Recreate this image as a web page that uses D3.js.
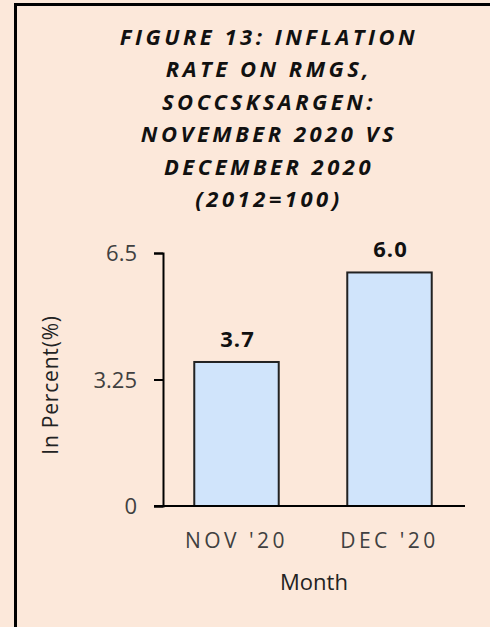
<!DOCTYPE html>
<html>
<head>
<meta charset="utf-8">
<script src="https://cdn.jsdelivr.net/npm/d3@7"></script>
<style>
  body { margin: 0; background: #fce8da; }
  svg { display: block; }
  text { font-family: "Open Sans", sans-serif; }
</style>
</head>
<body>
<svg id="chart" width="490" height="627"></svg>
<script>
// chart data
const titleLines = ["FIGURE 13: INFLATION", "RATE ON RMGS,", "SOCCSKSARGEN:",
                    "NOVEMBER 2020 VS", "DECEMBER 2020", "(2012=100)"];
const months = ["NOV '20", "DEC '20"];
const rates = [3.7, 6.0];
const yTicks = [0, 3.25, 6.5];
const yLabel = "In Percent(%)";
const xLabel = "Month";

const svg = d3.select("#chart");

// frame (right and bottom edges run off the picture)
svg.append("rect")
    .attr("x", 15.5).attr("y", 4.5)
    .attr("width", 600).attr("height", 700)
    .attr("fill", "#fce8da")
    .attr("stroke", "#000").attr("stroke-width", 3);

// title
svg.append("g").selectAll("text").data(titleLines).enter().append("text")
    .attr("x", 269)
    .attr("y", function (d, i) { return 45 + i * 32.4; })
    .attr("text-anchor", "middle")
    .attr("font-size", 22)
    .attr("font-weight", "bold")
    .attr("font-style", "italic")
    .attr("letter-spacing", 3.5)
    .attr("fill", "#111")
    .text(function (d) { return d; });

const plotLeft = 163, plotRight = 465, plotTop = 253, plotBottom = 506;

const x = d3.scaleBand().domain(months).range([160, 466])
    .paddingInner(0.448).paddingOuter(0.224);
const y = d3.scaleLinear().domain([0, 6.5]).range([plotBottom, plotTop]);

// bars
svg.append("g").selectAll("rect").data(rates).enter().append("rect")
    .attr("x", function (d, i) { return x(months[i]); })
    .attr("y", function (d) { return y(d); })
    .attr("width", x.bandwidth())
    .attr("height", function (d) { return plotBottom - y(d); })
    .attr("fill", "#d0e4fb")
    .attr("stroke", "#222")
    .attr("stroke-width", 2);

// value labels
svg.append("g").selectAll("text").data(rates).enter().append("text")
    .attr("x", function (d, i) { return x(months[i]) + x.bandwidth() / 2 + 1; })
    .attr("y", function (d) { return y(d) - 15; })
    .attr("text-anchor", "middle")
    .attr("font-size", 22)
    .attr("font-weight", "bold")
    .attr("letter-spacing", 1)
    .attr("fill", "#111")
    .text(function (d) { return d.toFixed(1); });

// y axis
const yAxis = svg.append("g")
    .attr("transform", "translate(" + plotLeft + ",0)")
    .call(d3.axisLeft(y).tickValues(yTicks).tickSize(9).tickPadding(17)
        .tickFormat(function (d) { return d; }));
yAxis.select(".domain").attr("stroke", "#000").attr("stroke-width", 2);
yAxis.selectAll(".tick line").attr("stroke", "#000").attr("stroke-width", 2);
yAxis.selectAll(".tick text")
    .attr("font-size", 22)
    .attr("font-family", "Open Sans, sans-serif")
    .attr("fill", "#404040")
    .attr("dy", "0.36em");

// x axis
const xAxis = svg.append("g")
    .attr("transform", "translate(0," + plotBottom + ")")
    .call(d3.axisBottom(x).tickSize(0).tickPadding(27));
xAxis.select(".domain").remove();
xAxis.selectAll(".tick text")
    .attr("font-size", 21)
    .attr("font-family", "Open Sans, sans-serif")
    .attr("letter-spacing", 3.5)
    .attr("fill", "#404040")
    .attr("dy", "0.71em");
svg.append("line")
    .attr("x1", plotLeft - 9).attr("x2", plotRight)
    .attr("y1", plotBottom).attr("y2", plotBottom)
    .attr("stroke", "#000").attr("stroke-width", 2);

// axis titles
svg.append("text")
    .attr("transform", "translate(58,385) rotate(-90)")
    .attr("text-anchor", "middle")
    .attr("font-size", 21)
    .attr("letter-spacing", 0.8)
    .attr("fill", "#222")
    .text(yLabel);

svg.append("text")
    .attr("x", 314).attr("y", 590)
    .attr("text-anchor", "middle")
    .attr("font-size", 22)
    .attr("fill", "#222")
    .text(xLabel);
</script>
</body>
</html>
